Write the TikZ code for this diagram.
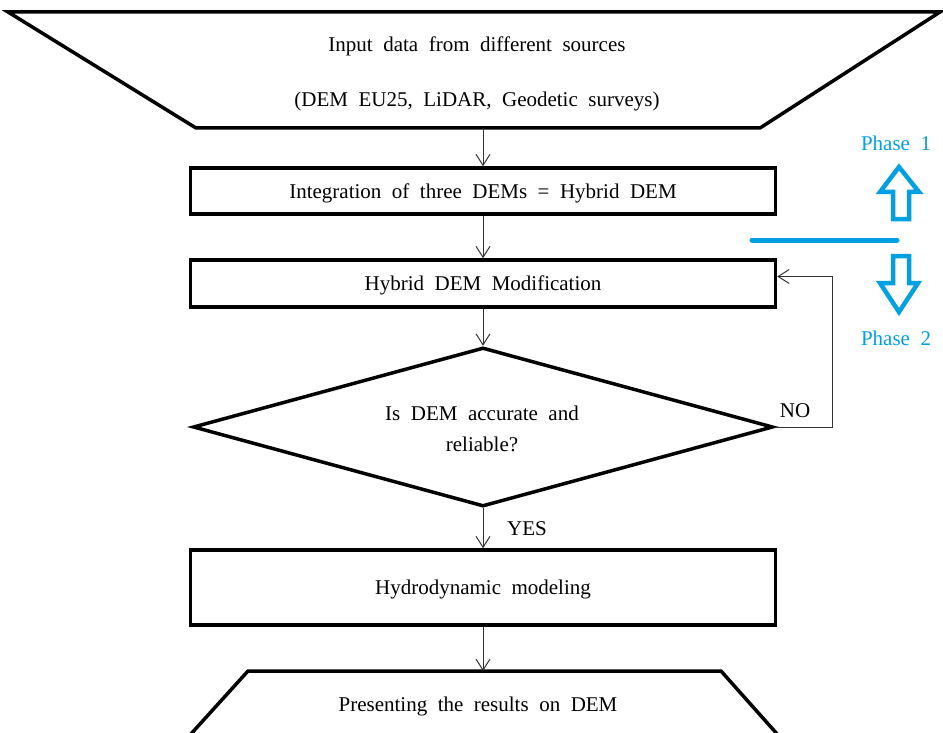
\documentclass[tikz,border=0pt]{standalone}
\usepackage{fontspec}
\setmainfont[WordSpace=2]{Liberation Serif}
\usetikzlibrary{arrows.meta,shapes.geometric}
\definecolor{phaseblue}{RGB}{0,160,227}
\begin{document}
\begin{tikzpicture}[x=1pt,y=-1pt,
  every node/.style={font=\fontsize{21}{24}\selectfont},
  shapeline/.style={draw=black,line width=3.5pt,line join=miter},
  procbox/.style={shapeline,rectangle,minimum width=585pt,inner sep=0pt,text depth=0pt},
  conn/.style={draw=black!80,line width=1pt,-{Straight Barb[length=11pt,width=14pt,line width=1pt]}},
  label/.style={inner sep=0pt},
  phasetext/.style={text=phaseblue,inner sep=0pt},
  blockarrow/.style={draw=phaseblue,line width=4.5pt,line join=miter}]
\useasboundingbox (0,0) rectangle (943,733);
% top trapezium
\draw[shapeline] (8,12) -- (940,12) -- (760,128) -- (196,128) -- cycle;
\coordinate (inS) at (483,128);
\node[label] (in1) at (477,46) {Input data from different sources};
\node[label] (in2) at (477,101) {(DEM EU25, LiDAR, Geodetic surveys)};
% boxes
\node[procbox,minimum height=46pt] (b1) at (483,191) {Integration of three DEMs = Hybrid DEM};
\node[procbox,minimum height=47pt] (b2) at (483,283.5) {Hybrid DEM Modification};
\node[shapeline,diamond,minimum width=580pt,minimum height=159pt,inner sep=0pt,align=center] (dia) at (483,427) {};
\node[label] (q1) at (482,413) {Is DEM accurate and};
\node[label] (q2) at (482,444) {reliable?};
\node[procbox,minimum height=75pt] (b3) at (483,587.5) {Hydrodynamic modeling};
% bottom trapezium
\draw[shapeline] (248,671) -- (721,671) -- (778,735) -- (190,735) -- cycle;
\coordinate (outN) at (483,671);
\node[label] (out) at (478,706) {Presenting the results on DEM};
% connectors
\draw[conn] (inS) -- (b1.north);
\draw[conn] (b1.south) -- (b2.north);
\draw[conn] (b2.south) -- (dia.north);
\draw[conn] (dia.south) -- (b3.north);
\draw[conn] (b3.south) -- (outN);
\coordinate (loopc) at (832,427);
\draw[conn] (dia.east) -- (loopc) |- ([yshift=7pt]b2.east);
\node[label] (no) at (795,411) {NO};
\node[label] (yes) at (527,529) {YES};
% phase markers
\node[phasetext] (p1) at (896,143) {Phase 1};
\node[phasetext] (p2) at (896,338) {Phase 2};
\draw[phaseblue,line width=5pt,line cap=round] (752,240) -- (897,240);
\draw[blockarrow] (899,167) -- (919,192) -- (909,192) -- (909,219) -- (893,219) -- (893,192) -- (880,192) -- cycle;
\draw[blockarrow] (893,256) -- (909,256) -- (909,283) -- (918,283) -- (899,312) -- (880,283) -- (893,283) -- cycle;
\end{tikzpicture}
\end{document}
